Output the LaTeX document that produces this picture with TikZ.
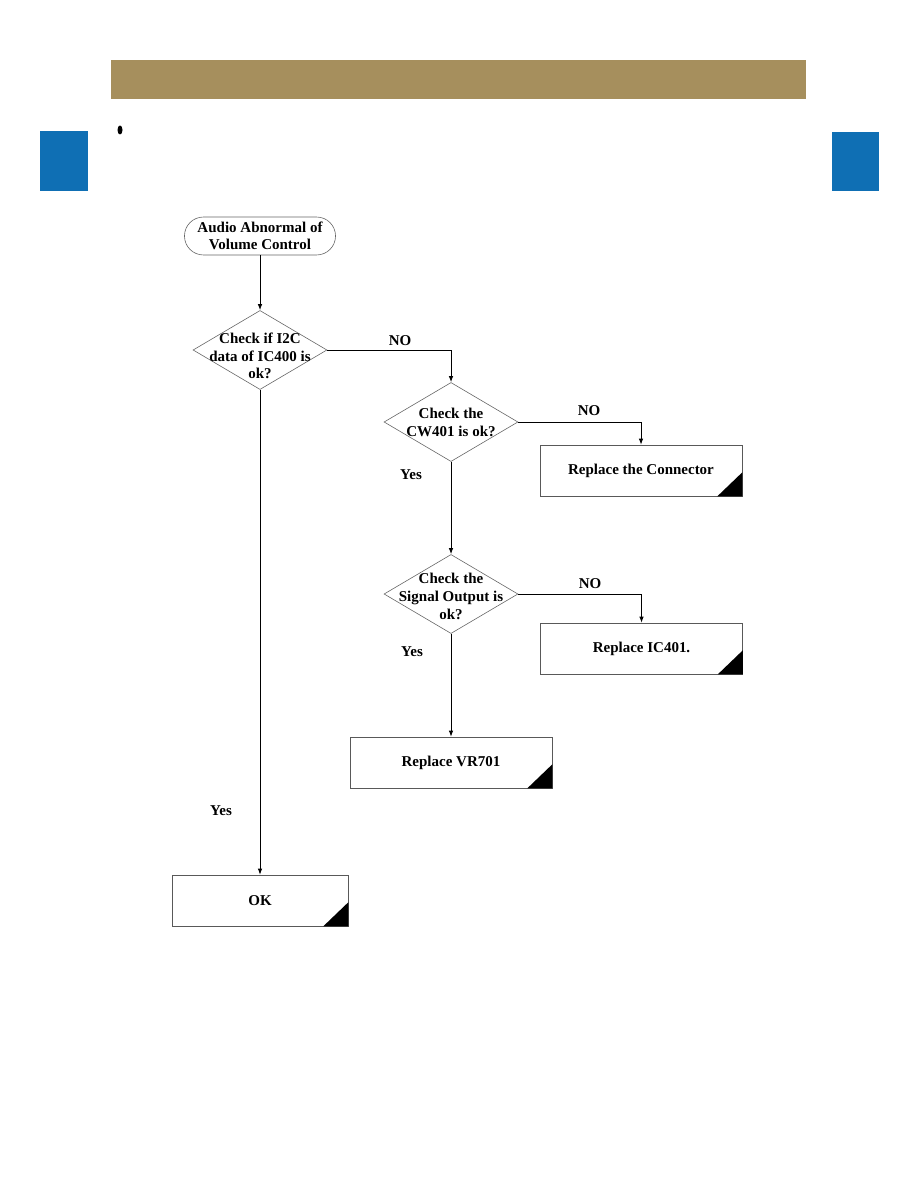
\documentclass[tikz,border=0pt]{standalone}
\usepackage{fontspec}
\setmainfont{Liberation Serif}
\usetikzlibrary{shapes.geometric,arrows.meta}
\definecolor{gold}{HTML}{A68F5D}
\definecolor{tabblue}{HTML}{0F6FB4}
\tikzset{
  px/.style={x=0.6667pt,y=-0.6667pt},
  term/.style={draw=black!60, rounded corners=12.6pt, minimum width=100.7pt, minimum height=25.3pt, inner sep=0pt, font=\bfseries\fontsize{10}{11}\selectfont, align=center},
  dia/.style={draw=black!60, diamond, minimum width=89.3pt, minimum height=52.7pt, inner sep=0pt},
  diatext/.style={font=\bfseries\fontsize{10}{11.8}\selectfont, align=center, inner sep=0pt},
  actbox/.style={draw=black!65, rectangle, minimum width=134.7pt, minimum height=34pt, inner sep=0pt, font=\bfseries\fontsize{10}{11}\selectfont},
  flow/.style={draw=black, line width=0.6pt, -{Latex[length=4pt,width=3pt]}},
  lbl/.style={font=\bfseries\fontsize{10}{11}\selectfont, inner sep=0pt},
}
\begin{document}
\begin{tikzpicture}[px]
\useasboundingbox (0,0) rectangle (918,1188);
% header decorations
\fill[gold] (111,60) rectangle (806,99);
\fill[tabblue] (40,131) rectangle (88,191);
\fill[tabblue] (832,132) rectangle (879,191);
\fill[black] (120,130) ellipse [x radius=2.5, y radius=4.5];

% nodes
\node[term] (start) at (260,236) {Audio Abnormal of\\Volume Control};
\node[dia] (d1) at (260,350) {};
\node[diatext] at ([yshift=-4pt]d1.center) {Check if I2C\\data of IC400 is\\ok?};
\node[dia] (d2) at (451,422) {};
\node[diatext] at ([yshift=-0.5pt]d2.center) {Check the\\CW401 is ok?};
\node[dia] (d3) at (451,594) {};
\node[diatext] at ([yshift=-1.5pt]d3.center) {Check the\\Signal Output is\\ok?};
\node[actbox] (b1) at (641,470.5) {Replace the Connector};
\node[actbox] (b2) at (641.5,648.5) {Replace IC401.};
\node[actbox] (b3) at (451,762.5) {Replace VR701};
\node[actbox, minimum width=117.3pt] (b4) at (260,900.5) {OK};

% corner triangles
\foreach \b in {b1,b2,b3,b4}{
  \fill[black] (\b.south east) -- ++(0,-24) -- ++(-25,24) -- cycle;
}

% connectors
\draw[flow] (start.south) -- (d1.north);
\draw[flow] (d1.east) -| (d2.north);
\draw[flow] (d2.east) -| (b1.north);
\draw[flow] (d2.south) -- (d3.north);
\draw[flow] (d3.east) -| (b2.north);
\draw[flow] (d3.south) -- (b3.north);
\draw[flow] (d1.south) -- (b4.north);

% labels
\node[lbl] at (400,341) {NO};
\node[lbl] at (589,411) {NO};
\node[lbl] at (590,584) {NO};
\node[lbl] at (411,475) {Yes};
\node[lbl] at (412,652) {Yes};
\node[lbl] at (221,811) {Yes};
\end{tikzpicture}
\end{document}
